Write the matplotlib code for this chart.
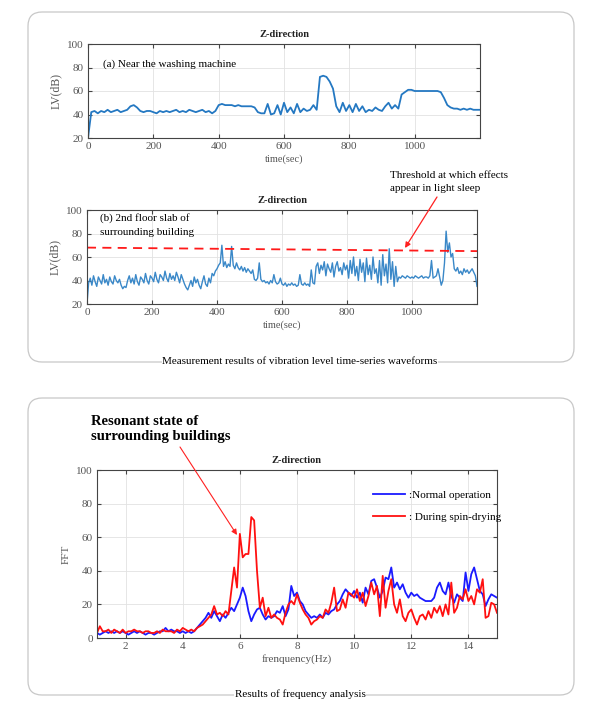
import numpy as np
import matplotlib
matplotlib.use("Agg")
import matplotlib.pyplot as plt
from matplotlib.patches import FancyBboxPatch

plt.rcParams['font.family'] = ['Liberation Serif', 'DejaVu Serif']

# ---------------- data ----------------
# (a) Near the washing machine, sampled every 10 s from 0 to 1200 s
time_a = np.arange(0, 1201, 10)
lv_a = [20, 42, 43, 41, 43, 42, 44, 42, 43, 44,
        42, 43, 44, 47, 48, 46, 43, 42, 43, 43,
        42, 41, 43, 42, 43, 42, 43, 44, 42, 43,
        42, 44, 43, 42, 43, 44, 42, 43, 41, 43,
        48, 49, 48, 48, 48, 47, 48, 47, 47, 47,
        47, 46, 42, 41, 41, 49, 40, 41, 48, 40,
        50, 42, 46, 41, 49, 42, 45, 43, 44, 48,
        44, 72, 73, 72, 68, 62, 47, 42, 50, 43,
        48, 42, 49, 43, 47, 42, 44, 43, 46, 44,
        43, 47, 50, 45, 48, 45, 57, 59, 61, 61,
        60, 60, 60, 60, 60, 60, 60, 60, 59, 54,
        48, 46, 45, 45, 44, 45, 44, 45, 44, 44,
        44]

# (b) 2nd floor slab of surrounding building, sampled every 5 s
time_b = np.arange(0, 1201, 5)
lv_b = [20, 38, 42, 36, 44, 39, 35, 43, 40, 37, 45, 38, 41, 36, 43, 39, 37, 44, 40, 38,
        41, 36, 33, 35, 34, 40, 44, 38, 42, 37, 45, 39, 36, 43, 41, 38, 46, 40, 37, 44,
        42, 39, 47, 41, 38, 45, 43, 40, 48, 42, 39, 46, 41, 44, 40, 47, 43, 38, 45, 41,
        37, 34, 32, 36, 40, 35, 43, 38, 41, 36, 33, 39, 44, 37, 35, 42, 38, 46, 44, 48,
        50, 53, 55, 70, 52, 56, 51, 54, 52, 69, 53, 50, 55, 51, 49, 52, 48, 51, 47, 50,
        48, 46, 49, 41, 40, 42, 55, 41, 39, 40, 38, 39, 37, 40, 38, 45, 39, 37, 38, 42,
        37, 36, 38, 35, 37, 36, 38, 36, 37, 35, 36, 45, 37, 36, 38, 36, 37, 35, 49, 38,
        37, 52, 55, 46, 53, 49, 56, 44, 54, 50, 47, 55, 43, 52, 56, 48, 51, 45, 55, 49,
        53, 42, 57, 46, 60, 44, 52, 40, 58, 47, 55, 39, 59, 45, 53, 41, 60, 46, 50, 38,
        57, 36, 62, 44, 54, 38, 67, 41, 56, 35, 52, 39, 43, 42, 44, 43, 42, 44, 43, 42,
        43, 42, 44, 43, 42, 43, 44, 42, 43, 43, 42, 44, 57, 42, 43, 44, 50, 43, 36, 40,
        55, 82, 64, 72, 60, 63, 50, 48, 51, 46, 48, 45, 50, 47, 49, 46, 48, 50, 47, 44,
        35]

threshold_time = [0, 1200]
threshold_lv = [68, 65]

# FFT, 1.0 to 15.0 Hz every 0.1 Hz
freq = np.round(np.arange(1.0, 15.01, 0.1), 1)
fft_normal = [3, 2, 3, 4, 3, 4, 3, 4, 3, 4,
              3, 2, 3, 4, 3, 4, 3, 2, 3, 3,
              2, 3, 4, 4, 6, 4, 5, 4, 4, 3,
              4, 3, 4, 3, 4, 6, 8, 10, 12, 15,
              12, 16, 13, 10, 14, 12, 15, 18, 16, 20,
              24, 30, 25, 16, 10, 14, 17, 18, 14, 11,
              13, 12, 13, 16, 15, 19, 13, 17, 31, 25,
              27, 22, 20, 16, 14, 12, 13, 12, 14, 12,
              15, 14, 16, 17, 20, 22, 26, 29, 27, 25,
              28, 24, 27, 21, 30, 26, 34, 35, 30, 24,
              28, 36, 35, 42, 30, 33, 29, 32, 27, 24,
              27, 25, 26, 24, 23, 22, 22, 22, 24, 30,
              33, 28, 26, 33, 25, 21, 26, 24, 22, 39,
              28, 38, 42, 35, 28, 26, 19, 23, 26, 25,
              24]
fft_spin = [3, 7, 4, 4, 5, 3, 5, 4, 3, 5,
            3, 4, 4, 5, 4, 4, 3, 4, 4, 3,
            3, 4, 3, 5, 4, 4, 4, 3, 5, 4,
            6, 5, 4, 5, 4, 6, 7, 8, 10, 12,
            14, 19, 14, 15, 13, 16, 14, 28, 42, 30,
            62, 48, 50, 50, 72, 70, 40, 18, 24, 13,
            18, 12, 14, 12, 11, 8, 15, 20, 22, 20,
            26, 21, 17, 14, 12, 8, 10, 11, 13, 12,
            17, 15, 21, 30, 16, 17, 23, 18, 27, 26,
            24, 29, 22, 27, 19, 25, 33, 26, 31, 13,
            37, 18, 28, 35, 20, 15, 23, 13, 10, 15,
            17, 12, 8, 13, 14, 11, 16, 12, 18, 15,
            19, 13, 20, 14, 33, 15, 18, 25, 23, 29,
            22, 25, 20, 29, 27, 35, 12, 13, 21, 20,
            15]

# ---------------- figure ----------------
W, H = 600, 714
fig = plt.figure(figsize=(W / 100, H / 100), dpi=100)

# background layer in pixel coords
bg = fig.add_axes([0, 0, 1, 1], zorder=-1)
bg.set_xlim(0, W); bg.set_ylim(H, 0); bg.axis('off')
for (x0, y0, x1, y1) in [(28, 12, 574, 362), (28, 398, 574, 695)]:
    bg.add_patch(FancyBboxPatch((x0, y0), x1 - x0, y1 - y0,
                                boxstyle="round,pad=0,rounding_size=14",
                                fc='white', ec='#c8c8c8', lw=0.9))

def px_axes(l, t, r, b):
    return fig.add_axes([l / W, 1 - b / H, (r - l) / W, (b - t) / H])

tick_col = '#555555'
fs = 8

def style(ax):
    ax.set_facecolor('none')
    ax.grid(True, color='#e2e2e2', lw=0.6)
    ax.set_axisbelow(True)
    for s in ax.spines.values():
        s.set_color('#444444'); s.set_linewidth(0.8)
    ax.tick_params(direction='in', top=True, right=True, length=3,
                   labelsize=fs, labelcolor=tick_col, color='#444444', pad=3)

line_blue = '#2478c2'

# (a)
ax1 = px_axes(88, 44, 480, 138)
ax1.plot(time_a, lv_a, color=line_blue, lw=1.3)
ax1.set_xlim(0, 1200); ax1.set_ylim(20, 100)
ax1.set_xticks([0, 200, 400, 600, 800, 1000])
ax1.set_yticks([20, 40, 60, 80, 100])
style(ax1)
ax1.set_title('Z-direction', fontsize=7.5, fontweight='bold', color='#222222', pad=5)
ax1.set_xlabel('time(sec)', fontsize=7.5, color=tick_col, labelpad=2)
ax1.set_ylabel('LV(dB)', fontsize=8.5, color=tick_col, labelpad=4)
ax1.text(45, 83, '(a) Near the washing machine', fontsize=8, va='center', color='black')

# (b)
ax2 = px_axes(87, 210, 477, 304)
ax2.plot(time_b, lv_b, color='#3a88c8', lw=1.0)
ax2.plot(threshold_time, threshold_lv, color='#ff1a1a', lw=1.3, ls=(0, (5, 3.5)))
ax2.set_xlim(0, 1200); ax2.set_ylim(20, 100)
ax2.set_xticks([0, 200, 400, 600, 800, 1000])
ax2.set_yticks([20, 40, 60, 80, 100])
style(ax2)
ax2.set_title('Z-direction', fontsize=7.5, fontweight='bold', color='#222222', pad=5)
ax2.set_xlabel('time(sec)', fontsize=7.5, color=tick_col, labelpad=2)
ax2.set_ylabel('LV(dB)', fontsize=8.5, color=tick_col, labelpad=4)
ax2.text(40, 97, '(b) 2nd floor slab of\nsurrounding building', fontsize=8,
         va='top', color='black', linespacing=1.6)

# FFT
ax3 = px_axes(97, 470, 497, 638)
ax3.plot(freq, fft_normal, color='#1a1aff', lw=1.3, label=':Normal operation')
ax3.plot(freq, fft_spin, color='#ff1010', lw=1.3, label=': During spin-drying')
ax3.set_xlim(1, 15); ax3.set_ylim(0, 100)
ax3.set_xticks([2, 4, 6, 8, 10, 12, 14])
ax3.set_yticks([0, 20, 40, 60, 80, 100])
style(ax3)
ax3.set_title('Z-direction', fontsize=7.5, fontweight='bold', color='#222222', pad=5)
ax3.set_xlabel('frenquency(Hz)', fontsize=8, color=tick_col, labelpad=2)
ax3.set_ylabel('FFT', fontsize=8, color=tick_col, labelpad=4)
ax3.legend(loc='upper left', bbox_to_anchor=(373 / W, 1 - 490 / H),
           bbox_transform=fig.transFigure, frameon=False, fontsize=8,
           handlelength=2.9, handletextpad=0.3, labelspacing=1.1, borderpad=0,
           borderaxespad=0)

# overlay: annotations in pixel coords
ov = fig.add_axes([0, 0, 1, 1], zorder=10)
ov.set_xlim(0, W); ov.set_ylim(H, 0); ov.axis('off')
ov.text(390, 182, 'Threshold at which effects\nappear in light sleep', fontsize=8,
        va='center', ha='left', linespacing=1.5)
ov.annotate('', xy=(405, 248), xytext=(437, 197),
            arrowprops=dict(arrowstyle='-|>', color='#ff2020', lw=0.9,
                            mutation_scale=8, shrinkA=0, shrinkB=0))
ov.text(91, 429, 'Resonant state of\nsurrounding buildings', fontsize=10.5,
        fontweight='bold', va='center', ha='left', linespacing=1.15)
ov.annotate('', xy=(237, 535), xytext=(180, 447),
            arrowprops=dict(arrowstyle='-|>', color='#ff2020', lw=0.8,
                            mutation_scale=8, shrinkA=0, shrinkB=0))
ov.text(300, 362, 'Measurement results of vibration level time-series waveforms',
        fontsize=8, ha='center', va='center',
        bbox=dict(fc='white', ec='none', pad=0.5))
ov.text(300, 694, 'Results of frequency analysis', fontsize=8, ha='center',
        va='center', bbox=dict(fc='white', ec='none', pad=0.5))

fig.savefig('out.png', dpi=100)
